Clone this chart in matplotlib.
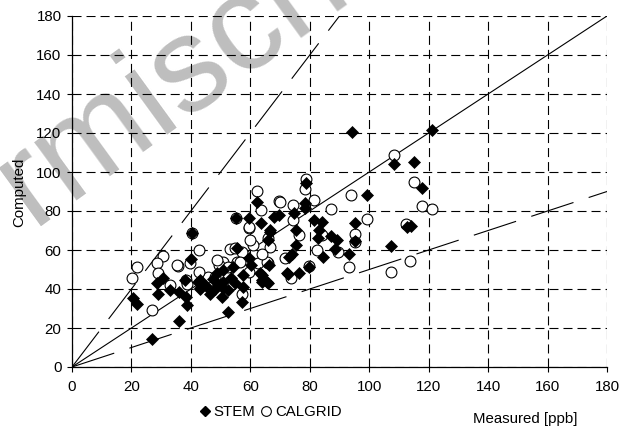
import matplotlib
matplotlib.use("Agg")
import matplotlib.pyplot as plt
from matplotlib.lines import Line2D

plt.rcParams['font.family'] = ['Liberation Sans', 'DejaVu Sans']
plt.rcParams['lines.scale_dashes'] = False

# STEM (filled diamonds)
stem_x = [121.0, 94.2, 108.2, 114.9, 117.7, 112.7, 114.0, 107.4, 99.3, 78.7,
          78.5, 78.5, 69.5, 74.8, 81.3, 84.1, 95.3, 83.1, 75.4, 82.9,
          87.2, 89.1, 75.4, 88.4, 84.4, 93.3, 95.3, 79.9, 76.5, 72.8,
          73.1, 66.4, 66.1, 63.9, 63.9, 66.1, 66.7, 63.6, 62.1, 59.5,
          55.3, 40.5, 39.9, 60.3, 55.4, 48.7, 50.9, 50.9, 52.6, 50.4,
          52.5, 57.4, 57.1, 57.5, 59.4, 54.3, 63.3, 65.5, 42.5, 43.1,
          46.5, 38.0, 36.1, 38.4, 38.6, 36.0, 30.7, 28.7, 29.1, 33.0,
          20.6, 22.0, 26.8, 43.1, 43.1, 68.0, 74.0, 72.2, 66.7, 63.9,
          47.5, 49.0, 45.0, 53.5, 55.0, 48.0, 50.9]
stem_y = [121.5, 120.7, 104.1, 105.3, 91.6, 71.9, 72.3, 62.2, 88.2, 94.2,
          83.9, 81.4, 77.8, 79.1, 75.4, 74.5, 73.7, 70.3, 70.5, 66.0,
          67.4, 65.3, 62.6, 60.6, 56.4, 58.0, 64.7, 51.4, 48.0, 47.7,
          56.2, 52.3, 42.9, 47.2, 43.7, 65.1, 70.3, 73.6, 84.4, 76.5,
          76.5, 68.5, 55.5, 52.3, 61.1, 48.0, 49.7, 43.7, 39.5, 36.1,
          28.1, 41.2, 33.1, 47.0, 55.7, 51.4, 48.0, 43.7, 43.7, 39.8,
          37.4, 44.6, 38.6, 36.1, 31.6, 23.8, 45.6, 42.9, 37.3, 39.5,
          35.2, 32.5, 14.5, 44.6, 40.3, 77.0, 58.0, 48.3, 69.4, 44.6,
          45.0, 42.0, 41.5, 45.5, 43.0, 40.0, 40.3]

# CALGRID (open circles)
calgrid_x = [108.2, 114.9, 117.7, 121.1, 112.3, 113.8, 107.4, 78.7, 78.5, 93.9,
             69.5, 74.5, 81.5, 87.1, 74.5, 99.3, 95.3, 95.3, 76.3, 84.0,
             82.5, 89.5, 93.3, 79.9, 73.8, 71.7, 66.1, 66.1, 63.5, 62.1,
             59.6, 42.7, 39.8, 30.7, 28.6, 35.6, 21.8, 20.2, 29.1, 32.9,
             38.3, 38.6, 26.8, 45.9, 53.0, 57.1, 61.0, 50.9, 49.3, 48.0,
             55.4, 57.1, 42.8, 52.6, 54.9, 56.6, 59.4, 62.7, 65.5, 66.7,
             70.0, 59.4, 55.3, 40.5, 48.7, 60.0, 64.0, 35.2]
calgrid_y = [108.7, 94.7, 82.6, 81.0, 73.1, 54.5, 48.6, 96.5, 91.5, 88.2,
             85.2, 83.3, 85.5, 80.9, 75.4, 75.8, 68.1, 64.3, 67.5, 67.5,
             60.2, 59.1, 51.4, 51.8, 45.5, 56.1, 53.2, 66.0, 80.5, 90.3,
             71.1, 60.0, 53.2, 56.8, 53.2, 52.0, 51.4, 45.6, 48.3, 42.0,
             44.6, 42.6, 29.4, 46.3, 60.4, 59.1, 62.6, 54.0, 52.3, 46.0,
             54.0, 37.6, 48.9, 51.4, 60.9, 54.0, 48.9, 53.2, 54.0, 61.7,
             84.8, 72.0, 76.5, 68.5, 55.0, 65.0, 58.0, 52.3]

ticks = [0, 20, 40, 60, 80, 100, 120, 140, 160, 180]

fig = plt.figure(figsize=(6.2, 4.29), dpi=100)
ax = fig.add_axes([72/620, 1-367/429, 535/620, 351/429])
ax.patch.set_alpha(0)

# watermark behind everything
fig.text(32/620, 1-226/429, "rmisch", fontsize=97, color='#bebebe',
         rotation=36, rotation_mode='anchor', ha='left', va='baseline', zorder=-5)

# reference lines 1:1, 2:1 and 1:2
ax.plot([0, 180], [0, 180], color='black', lw=0.8, zorder=3)
ax.plot([0, 90], [0, 180], color='black', lw=0.8, dashes=(32, 11.5), zorder=3)
ax.plot([0, 180], [0, 90], color='black', lw=0.8, dashes=(32, 11.5), zorder=3)

ax.plot(calgrid_x, calgrid_y, 'o', ms=7.8, mfc='white', mec='black', mew=0.8,
        ls='none', zorder=4)
ax.plot(stem_x, stem_y, 'D', ms=6.0, mfc='black', mec='black', mew=0.5,
        ls='none', zorder=5)

ax.set_xlim(0, 180)
ax.set_ylim(0, 180)
ax.set_xticks(ticks)
ax.set_yticks(ticks)
ax.grid(True, color='black', lw=0.8, dashes=(6.5, 3.6))
ax.set_axisbelow(True)
for s in ['top', 'right']:
    ax.spines[s].set_visible(False)
for s in ['left', 'bottom']:
    ax.spines[s].set_linewidth(0.9)
ax.tick_params(direction='out', length=3.5, width=0.8, labelsize=10.8, pad=4)
ax.tick_params(axis='x', pad=6)

fig.text(19/620, 1-192/429, "Computed", rotation=90, ha='center', va='center', fontsize=10.8)
fig.text(525/620, 1-419/429, "Measured [ppb]", ha='center', va='center', fontsize=10.8)

handles = [Line2D([], [], marker='D', ls='none', ms=5.5, mfc='black', mec='black'),
           Line2D([], [], marker='o', ls='none', ms=7, mfc='white', mec='black', mew=0.8)]
fig.legend(handles, ["STEM", "CALGRID"], loc='center',
           bbox_to_anchor=(270/620, 1-412/429), ncol=2, frameon=False,
           fontsize=10.8, handlelength=0.8, handletextpad=0.2, columnspacing=0.3,
           borderpad=0)

fig.savefig("out.png", dpi=100)
